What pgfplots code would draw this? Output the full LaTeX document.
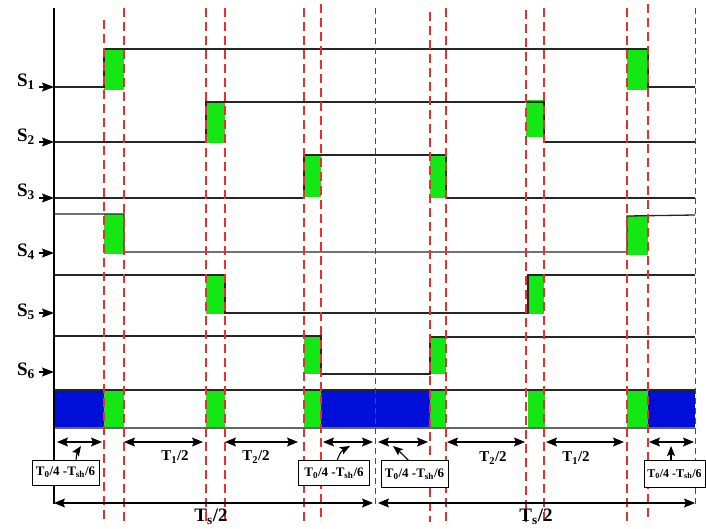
\documentclass[border=0pt]{standalone}
\usepackage{pgfplots}
\pgfplotsset{compat=1.18}
\usetikzlibrary{arrows.meta}
\usepackage{fontspec}
\setmainfont{Liberation Serif}
\definecolor{grn}{RGB}{20,232,20}
\definecolor{blu}{RGB}{0,15,215}
\definecolor{rdash}{RGB}{225,50,50}
\begin{document}
\begin{tikzpicture}
\begin{axis}[scale only axis, width=706pt, height=528pt,
  xmin=0, xmax=706, ymin=0, ymax=528, y dir=reverse,
  hide axis, clip=false,
  gbox/.style={fill=grn, draw=none},
  bbox/.style={fill=blu, draw=none},
  sig/.style={black!85, line width=1.3pt},
  rd/.style={rdash, line width=1.6pt, dash pattern=on 9pt off 5pt},
  kd/.style={black!70, line width=1pt, dash pattern=on 6pt off 4pt},
  dar/.style={black, line width=1.1pt, {Stealth[length=11pt,width=9pt,inset=2pt]}-{Stealth[length=11pt,width=9pt,inset=2pt]}},
  sar/.style={black, line width=1.1pt, -{Stealth[length=12pt,width=9pt,inset=2pt]}},
  par/.style={black, line width=1.1pt, -{Stealth[length=10pt,width=8pt,inset=2pt]}},
]
\addplot[draw=none] coordinates {(0,0)(706,528)};
% green transition boxes
\addplot[gbox] coordinates {(104,49)(124,49)(124,90)(104,90)} -- cycle;
\addplot[gbox] coordinates {(627,49)(648,49)(648,90)(627,90)} -- cycle;
\addplot[gbox] coordinates {(206,102)(225,102)(225,143)(206,143)} -- cycle;
\addplot[gbox] coordinates {(526,100)(544,100)(544,137)(526,137)} -- cycle;
\addplot[gbox] coordinates {(304,155)(321,155)(321,197)(304,197)} -- cycle;
\addplot[gbox] coordinates {(430,155)(446,155)(446,198)(430,198)} -- cycle;
\addplot[gbox] coordinates {(104,214)(124,214)(124,254)(104,254)} -- cycle;
\addplot[gbox] coordinates {(627,216)(648,216)(648,255)(627,255)} -- cycle;
\addplot[gbox] coordinates {(206,275)(225,275)(225,314)(206,314)} -- cycle;
\addplot[gbox] coordinates {(528,275)(544,275)(544,314)(528,314)} -- cycle;
\addplot[gbox] coordinates {(304,336)(321,336)(321,374)(304,374)} -- cycle;
\addplot[gbox] coordinates {(430,337)(446,337)(446,374)(430,374)} -- cycle;
% bottom bar
\addplot[bbox] coordinates {(54,390)(104,390)(104,428)(54,428)} -- cycle;
\addplot[gbox] coordinates {(104,390)(124,390)(124,428)(104,428)} -- cycle;
\addplot[gbox] coordinates {(206,390)(225,390)(225,428)(206,428)} -- cycle;
\addplot[gbox] coordinates {(304,390)(321,390)(321,428)(304,428)} -- cycle;
\addplot[bbox] coordinates {(321,390)(430,390)(430,428)(321,428)} -- cycle;
\addplot[gbox] coordinates {(430,390)(446,390)(446,428)(430,428)} -- cycle;
\addplot[gbox] coordinates {(528,390)(545,390)(545,428)(528,428)} -- cycle;
\addplot[gbox] coordinates {(627,390)(648,390)(648,428)(627,428)} -- cycle;
\addplot[bbox] coordinates {(648,390)(695,390)(695,428)(648,428)} -- cycle;
\addplot[sig] coordinates {(54,390)(695,390)};
\addplot[sig, black!60] coordinates {(54,428)(695,428)};
% signals
\addplot[sig] coordinates {(54,87)(104,87)(104,49)(648,49)(648,87)(695,87)};
\addplot[sig] coordinates {(54,142)(206,142)(206,102)(544,102)(544,142)(695,142)};
\addplot[sig] coordinates {(54,198)(304,198)(304,155)(446,155)(446,198)(695,198)};
\addplot[sig] coordinates {(54,214)(124,214)(124,252)(627,252)(627,216)(695,215)};
\addplot[sig] coordinates {(54,275)(225,275)(225,313)(528,313)(528,275)(695,275)};
\addplot[sig] coordinates {(54,336)(321,336)(321,374)(430,374)(430,337)(695,337)};
% black dashed
\addplot[kd] coordinates {(375,8)(375,505)};
\addplot[kd] coordinates {(695,8)(695,505)};
% red dashed
\addplot[rd] coordinates {(104,20)(104,522)};
\addplot[rd] coordinates {(124,8)(124,522)};
\addplot[rd] coordinates {(206,8)(206,522)};
\addplot[rd] coordinates {(225,8)(225,522)};
\addplot[rd] coordinates {(304,8)(304,522)};
\addplot[rd] coordinates {(321,4)(321,522)};
\addplot[rd] coordinates {(430,12)(430,522)};
\addplot[rd] coordinates {(446,8)(446,522)};
\addplot[rd] coordinates {(526,10)(526,522)};
\addplot[rd] coordinates {(544,8)(544,522)};
\addplot[rd] coordinates {(627,8)(627,522)};
\addplot[rd] coordinates {(648,4)(648,522)};
% left axis line
\addplot[black, line width=1.3pt] coordinates {(54,8)(54,504)};
% S label arrows
\addplot[sar] coordinates {(39,87)(54,87)};
\addplot[sar] coordinates {(39,142)(54,142)};
\addplot[sar] coordinates {(39,198)(54,198)};
\addplot[sar] coordinates {(39,253)(54,253)};
\addplot[sar] coordinates {(39,313)(54,313)};
\addplot[sar] coordinates {(39,372)(54,372)};
\node[font=\bfseries\fontsize{19}{19}\selectfont] at (axis cs:26,82) {S\textsubscript{1}};
\node[font=\bfseries\fontsize{19}{19}\selectfont] at (axis cs:26,137) {S\textsubscript{2}};
\node[font=\bfseries\fontsize{19}{19}\selectfont] at (axis cs:26,192) {S\textsubscript{3}};
\node[font=\bfseries\fontsize{19}{19}\selectfont] at (axis cs:26,252) {S\textsubscript{4}};
\node[font=\bfseries\fontsize{19}{19}\selectfont] at (axis cs:26,312) {S\textsubscript{5}};
\node[font=\bfseries\fontsize{19}{19}\selectfont] at (axis cs:26,371) {S\textsubscript{6}};
% interval arrows
\addplot[dar] coordinates {(57,442)(102,442)};
\addplot[dar] coordinates {(124,442)(203,442)};
\addplot[dar] coordinates {(225,442)(298,442)};
\addplot[dar] coordinates {(323,442)(373,442)};
\addplot[dar] coordinates {(378,442)(428,442)};
\addplot[dar] coordinates {(447,442)(525,442)};
\addplot[dar] coordinates {(546,442)(624,442)};
\addplot[dar] coordinates {(649,442)(694,442)};
\node[font=\bfseries\fontsize{15}{15}\selectfont] at (axis cs:175,457) {T\textsubscript{1}/2};
\node[font=\bfseries\fontsize{15}{15}\selectfont] at (axis cs:256,457) {T\textsubscript{2}/2};
\node[font=\bfseries\fontsize{15}{15}\selectfont] at (axis cs:493,458) {T\textsubscript{2}/2};
\node[font=\bfseries\fontsize{15}{15}\selectfont] at (axis cs:576,458) {T\textsubscript{1}/2};
% pointer arrows
\addplot[par, smooth] coordinates {(76,461)(77,453)(81,446)};
\addplot[par, smooth] coordinates {(337,461)(341,452)(350,446)};
\addplot[par, smooth] coordinates {(409,461)(400,452)(393,446)};
\addplot[par] coordinates {(671,461)(671,446)};
% boxes
\node[draw=black, fill=white, line width=0.8pt, inner sep=1pt, minimum width=67pt, minimum height=25pt, font=\bfseries\fontsize{13}{13}\selectfont] at (axis cs:65.5,472.5) {T\textsubscript{0}/4 -T\textsubscript{sh}/6};
\node[draw=black, fill=white, line width=0.8pt, inner sep=1pt, minimum width=71pt, minimum height=25pt, font=\bfseries\fontsize{13}{13}\selectfont] at (axis cs:334,473) {T\textsubscript{0}/4 -T\textsubscript{sh}/6};
\node[draw=black, fill=white, line width=0.8pt, inner sep=1pt, minimum width=67pt, minimum height=27pt, font=\bfseries\fontsize{13}{13}\selectfont] at (axis cs:414.5,474) {T\textsubscript{0}/4 -T\textsubscript{sh}/6};
\node[draw=black, fill=white, line width=0.8pt, inner sep=1pt, minimum width=61pt, minimum height=27pt, font=\bfseries\fontsize{12}{12}\selectfont] at (axis cs:674.5,474) {T\textsubscript{0}/4 -T\textsubscript{sh}/6};
% Ts/2 arrows
\addplot[dar] coordinates {(54,503)(373,503)};
\addplot[dar] coordinates {(378,503)(695,503)};
\node[font=\bfseries\fontsize{19}{19}\selectfont] at (axis cs:211,517) {T\textsubscript{s}/2};
\node[font=\bfseries\fontsize{19}{19}\selectfont] at (axis cs:536,517) {T\textsubscript{s}/2};
\end{axis}
\end{tikzpicture}
\end{document}
